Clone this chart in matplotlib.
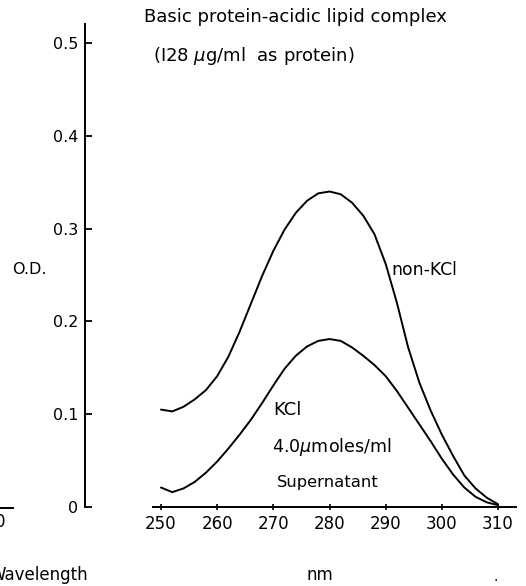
import matplotlib
matplotlib.use("Agg")
import matplotlib.pyplot as plt
from matplotlib.lines import Line2D

wavelength = [250, 252, 254, 256, 258, 260, 262, 264, 266, 268, 270, 272, 274, 276, 278, 280,
              282, 284, 286, 288, 290, 292, 294, 296, 298, 300, 302, 304, 306, 308, 310]
od_non_kcl = [0.105, 0.103, 0.108, 0.116, 0.126, 0.141, 0.162, 0.189, 0.219, 0.249, 0.276, 0.299,
              0.317, 0.330, 0.338, 0.340, 0.337, 0.328, 0.314, 0.294, 0.262, 0.220, 0.172, 0.134,
              0.104, 0.078, 0.055, 0.034, 0.020, 0.010, 0.003]
od_kcl = [0.021, 0.016, 0.020, 0.027, 0.037, 0.049, 0.063, 0.078, 0.094, 0.112, 0.131, 0.149,
          0.163, 0.173, 0.179, 0.181, 0.179, 0.172, 0.163, 0.153, 0.141, 0.125, 0.107, 0.089,
          0.071, 0.052, 0.035, 0.021, 0.011, 0.005, 0.002]
x_ticks = [250, 260, 270, 280, 290, 300, 310]
y_ticks = [0, 0.1, 0.2, 0.3, 0.4, 0.5]
y_tick_labels = ["0", "0.1", "0.2", "0.3", "0.4", "0.5"]

plt.rcParams['font.family'] = ['DejaVu Sans']
plt.rcParams['mathtext.fontset'] = 'dejavusans'

W, H = 526, 586
fig = plt.figure(figsize=(W / 100, H / 100), dpi=100)
ax = fig.add_axes([85 / W, 1 - 507 / H, (516 - 85) / W, (507 - 24) / H])
ax.set_xlim(236.47, 313.2)
ax.set_ylim(0, 0.5205)

ax.plot(wavelength, od_non_kcl, color='black', lw=1.4, solid_capstyle='round', solid_joinstyle='round')
ax.plot(wavelength, od_kcl, color='black', lw=1.4, solid_capstyle='round', solid_joinstyle='round')

for s in ['top', 'right']:
    ax.spines[s].set_visible(False)
ax.spines['left'].set_linewidth(1.4)
ax.spines['bottom'].set_linewidth(1.4)
ax.spines['left'].set_bounds(0, 0.5205)
ax.spines['bottom'].set_bounds(248.6, 313.2)

ax.set_xticks(x_ticks)
ax.set_yticks(y_ticks)
ax.set_yticklabels(y_tick_labels)
ax.tick_params(axis='y', direction='in', length=5, width=1.3, labelsize=11.5, pad=5)
ax.tick_params(axis='x', direction='inout', length=4, width=1.2, labelsize=12, pad=4)

# Texts
fig.text(144 / W, 1 - 17 / H, "Basic protein-acidic lipid complex", ha='left', va='center', fontsize=13)
fig.text(153 / W, 1 - 56 / H, "(I28 $\\mu$g/ml  as protein)", ha='left', va='center', fontsize=13)
fig.text(12 / W, 1 - 269 / H, "O.D.", ha='left', va='center', fontsize=11.5)
fig.text(391 / W, 1 - 270 / H, "non-KCl", ha='left', va='center', fontsize=12.4)
fig.text(273 / W, 1 - 410 / H, "KCl", ha='left', va='center', fontsize=13)
fig.text(272 / W, 1 - 447 / H, "4.0$\\mu$moles/ml", ha='left', va='center', fontsize=12.6)
fig.text(277 / W, 1 - 482 / H, "Supernatant", ha='left', va='center', fontsize=11.8)
fig.text(320 / W, 1 - 575 / H, "nm", ha='center', va='center', fontsize=12)
fig.text(496 / W, 1 - 577 / H, ".", ha='center', va='center', fontsize=10)

# Fragment of neighbouring panel at the left edge
fig.add_artist(Line2D([0, 13 / W], [1 - 508 / H, 1 - 508 / H], transform=fig.transFigure,
                      color='black', lw=1.4))
fig.text(0, 1 - 522 / H, "0", ha='center', va='center', fontsize=12)
fig.text(88 / W, 1 - 575 / H, "Wavelength", ha='right', va='center', fontsize=12)

fig.savefig("out.png", dpi=100)
